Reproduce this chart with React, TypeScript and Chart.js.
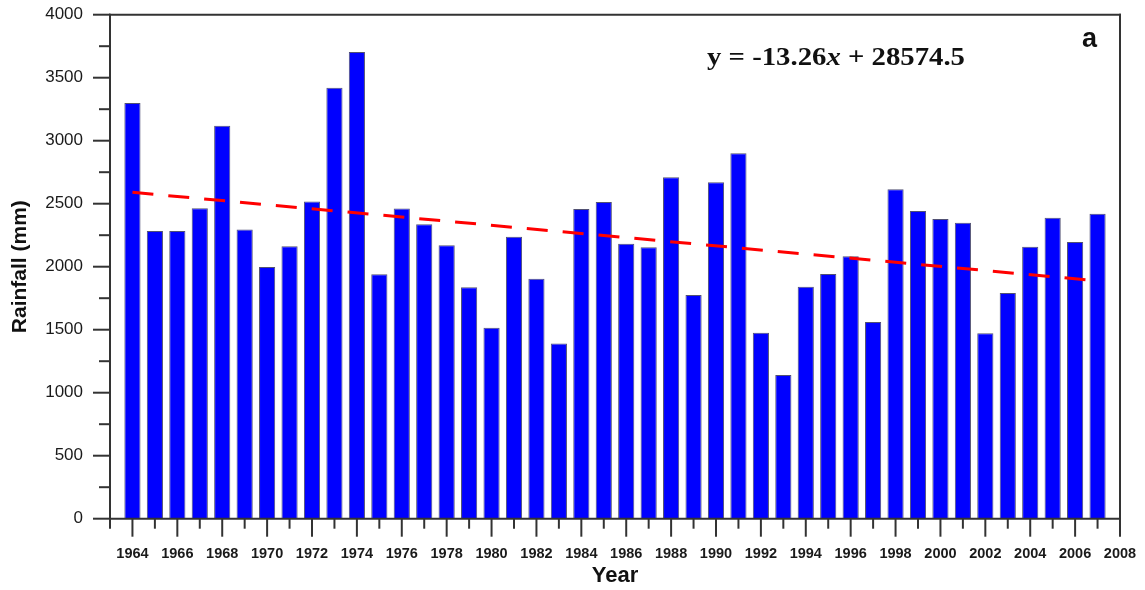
import React, { useEffect, useRef } from "react";
import { Chart, registerables } from "chart.js";

Chart.register(...registerables);

// ---- data ----
const years = [
  1964, 1965, 1966, 1967, 1968, 1969, 1970, 1971, 1972, 1973, 1974,
  1975, 1976, 1977, 1978, 1979, 1980, 1981, 1982, 1983, 1984, 1985,
  1986, 1987, 1988, 1989, 1990, 1991, 1992, 1993, 1994, 1995, 1996,
  1997, 1998, 1999, 2000, 2001, 2002, 2003, 2004, 2005, 2006, 2007,
];
const rainfall = [
  3300, 2283, 2283, 2464, 3119, 2295, 1998, 2162, 2518, 3421, 3704,
  1940, 2461, 2337, 2170, 1837, 1516, 2238, 1905, 1390, 2458, 2514,
  2183, 2154, 2710, 1776, 2670, 2900, 1476, 1141, 1841, 1942, 2083,
  1561, 2614, 2442, 2379, 2349, 1471, 1792, 2159, 2389, 2196, 2421,
];
const trendYears = [1964, 2007];
const trendValues = [2590, 1888];

const xTickYears = [
  1964, 1966, 1968, 1970, 1972, 1974, 1976, 1978, 1980, 1982, 1984, 1986,
  1988, 1990, 1992, 1994, 1996, 1998, 2000, 2002, 2004, 2006, 2008,
];
const xMin = 1963;
const xMax = 2008;
const yTicks = [0, 500, 1000, 1500, 2000, 2500, 3000, 3500, 4000];

const equationParts = { pre: "y = -13.26", ital: "x", post: " + 28574.5" };
const panelLabel = "a";
const xTitle = "Year";
const yTitle = "Rainfall (mm)";

const AXIS_COLOR = "#333333";

const axesPlugin = {
  id: "customAxes",
  afterDraw(chart: any) {
    const { ctx, chartArea, scales } = chart;
    const { left, right, top, bottom } = chartArea;
    const xs = scales.x;
    const ys = scales.y;
    ctx.save();
    ctx.strokeStyle = AXIS_COLOR;
    ctx.lineWidth = 2;
    ctx.lineCap = "butt";
    const line = (x1: number, y1: number, x2: number, y2: number) => {
      ctx.beginPath();
      ctx.moveTo(x1, y1);
      ctx.lineTo(x2, y2);
      ctx.stroke();
    };
    // frame
    line(left, top - 1, left, bottom + 1);
    line(left - 1, bottom, right + 1, bottom);
    line(left - 1, top, right + 1, top);
    line(right, top - 1, right, bottom + 1);
    // y ticks
    for (let i = 0; i < yTicks.length; i++) {
      const p = ys.getPixelForValue(yTicks[i]);
      line(left - 17, p, left, p);
      if (i < yTicks.length - 1) {
        const mid = (yTicks[i] + yTicks[i + 1]) / 2;
        const pm = ys.getPixelForValue(mid);
        line(left - 11, pm, left, pm);
      }
    }
    // x ticks
    for (let v = xMin; v <= xMax; v++) {
      const p = xs.getPixelForValue(v);
      const major = xTickYears.indexOf(v) >= 0;
      line(p, bottom, p, bottom + (major ? 18 : 10));
    }
    ctx.restore();
  },
};

export default function App() {
  const canvasRef = useRef<HTMLCanvasElement | null>(null);

  useEffect(() => {
    document.body.style.margin = "0";
    const canvas = canvasRef.current;
    if (!canvas) return;
    const chart = new Chart(canvas, {
      type: "bar",
      data: {
        datasets: [
          {
            type: "line",
            label: "Trend",
            data: trendYears.map((x, i) => ({ x, y: trendValues[i] })),
            borderColor: "#ff0000",
            borderWidth: 3,
            borderDash: [21, 15],
            pointRadius: 0,
            fill: false,
            order: 0,
          } as any,
          {
            type: "bar",
            label: "Rainfall",
            data: years.map((x, i) => ({ x, y: rainfall[i] })),
            backgroundColor: "#0000ff",
            borderColor: "rgba(50,50,90,0.85)",
            borderWidth: 1,
            categoryPercentage: 1,
            barPercentage: 0.72,
            order: 1,
          } as any,
        ],
      },
      options: {
        responsive: false,
        animation: false,
        events: [],
        layout: { padding: { top: 14.7, right: 25, left: 0, bottom: 0 } },
        plugins: {
          legend: { display: false },
          tooltip: { enabled: false },
        },
        scales: {
          x: {
            type: "linear",
            min: xMin,
            max: xMax,
            offset: false,
            grid: { display: false, drawTicks: false, offset: false },
            border: { display: false },
            afterBuildTicks: (s: any) => {
              s.ticks = xTickYears.map((v) => ({ value: v }));
            },
            afterFit: (s: any) => {
              s.height = 71.3;
              s.paddingLeft = 0;
              s.paddingRight = 0;
            },
            ticks: {
              autoSkip: false,
              maxRotation: 0,
              padding: 27,
              color: "#1a1a1a",
              font: { family: "'Liberation Sans', Arial, sans-serif", size: 14.5, weight: "bold" },
              callback: (v: any) => String(v),
            },
            title: {
              display: true,
              text: xTitle,
              color: "#111",
              font: { family: "'Liberation Sans', Arial, sans-serif", size: 22, weight: "bold" },
              padding: { top: 0, bottom: 1 },
            },
          } as any,
          y: {
            type: "linear",
            min: 0,
            max: 4000,
            grid: { display: false, drawTicks: false },
            border: { display: false },
            afterBuildTicks: (s: any) => {
              s.ticks = yTicks.map((v) => ({ value: v }));
            },
            afterFit: (s: any) => {
              s.width = 110;
              s.paddingTop = 0;
              s.paddingBottom = 0;
            },
            ticks: {
              padding: 27,
              color: "#1a1a1a",
              font: { family: "'Liberation Sans', Arial, sans-serif", size: 17 },
              callback: (v: any) => String(v),
            },
            title: {
              display: true,
              text: yTitle,
              color: "#111",
              font: { family: "'Liberation Sans', Arial, sans-serif", size: 21, weight: "bold" },
              padding: { top: 8, bottom: 0 },
            },
          } as any,
        },
      },
      plugins: [axesPlugin],
    });
    return () => chart.destroy();
  }, []);

  return (
    <div style={{ position: "relative", width: 1145, height: 590, background: "#fff" }}>
      <canvas ref={canvasRef} width={1145} height={590} style={{ display: "block" }} />
      <div
        style={{
          position: "absolute",
          left: 707,
          top: 44,
          fontFamily: "'Liberation Serif', 'Times New Roman', serif",
          fontWeight: "bold",
          fontSize: 25,
          lineHeight: 1,
          whiteSpace: "pre",
          color: "#111",
          transform: "scaleX(1.15)",
          transformOrigin: "left top",
        }}
      >
        {equationParts.pre}
        <i>{equationParts.ital}</i>
        {equationParts.post}
      </div>
      <div
        style={{
          position: "absolute",
          left: 1082,
          top: 25,
          fontFamily: "'Liberation Sans', Arial, sans-serif",
          fontWeight: "bold",
          fontSize: 27,
          lineHeight: 1,
          color: "#111",
        }}
      >
        {panelLabel}
      </div>
    </div>
  );
}
